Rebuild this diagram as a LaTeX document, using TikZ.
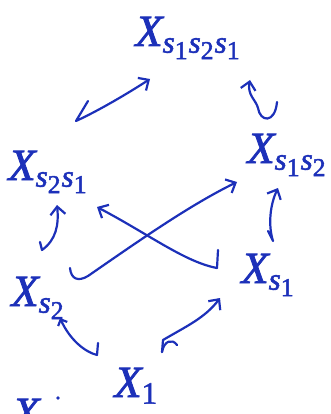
\documentclass[tikz,border=0pt]{standalone}
\usepackage{amsmath}
\usepackage{fontspec}
\newfontfamily\handfont{Liberation Serif}[FakeBold=1.8]
\newcommand\hi[1]{\text{\handfont\itshape #1}}
\newcommand\hd[1]{\text{\handfont #1}}
\usetikzlibrary{arrows.meta}
\definecolor{ink}{RGB}{28,48,185}
\begin{document}
\begin{tikzpicture}[x=1pt,y=-1pt,
  lab/.style={text=ink,inner sep=0pt,anchor=base west,font=\huge,scale=2.15,transform shape},
  arr/.style={draw=ink,line width=2.2pt,line cap=round,line join=round},
  barb/.tip={Straight Barb[length=8pt,width=15pt]},
  smallbarb/.tip={Straight Barb[length=5pt,width=10pt]},
  ]
\useasboundingbox (0,0) rectangle (331,414);
\clip (0,0) rectangle (331,414);
% labels
\node[lab] (top) at (135,46) {$\hi{X}_{\hi{s}_{\hd{1}}\hi{s}_{\hd{2}}\hi{s}_{\hd{1}}}$};
\node[lab] (r) at (247,163) {$\hi{X}_{\hi{s}_{\hd{1}}\hi{s}_{\hd{2}}}$};
\node[lab] (l) at (8,180) {$\hi{X}_{\hi{s}_{\hd{2}}\hi{s}_{\hd{1}}}$};
\node[lab] (ll) at (11,306) {$\hi{X}_{\hi{s}_{\hd{2}}}$};
\node[lab] (lr) at (241,283) {$\hi{X}_{\hi{s}_{\hd{1}}}$};
\node[lab] (b) at (114,397) {$\hi{X}_{\hd{1}}$};
\node[lab] (cut) at (12,428) {$\hi{X}$};
\fill[ink] (58,398) circle (1.8pt);
% named end points
\coordinate (a1s) at (88,101);
\coordinate (a1e) at (150,79);
\coordinate (a2s) at (250,80);
\coordinate (a2e) at (277,102);
\coordinate (a3s) at (57,205);
\coordinate (a3e) at (40,242);
\coordinate (a4s) at (278,188);
\coordinate (a4e) at (268,231);
\coordinate (a5s) at (70,268);
\coordinate (a5e) at (237,182);
\coordinate (a6s) at (97,207);
\coordinate (a6e) at (218,250);
\coordinate (a7s) at (60,318);
\coordinate (a7e) at (98,343);
\coordinate (a8s) at (162,352);
\coordinate (a8e) at (220,298);
% top-left: X_{s2s1} <-> X_{s1s2s1}
\draw[arr,-{barb}] (a1s) -- (76,121) .. controls (100,110) and (130,92) .. (a1e);
% top-right squiggle: X_{s1s2s1} <-> X_{s1s2}
\draw[arr,{barb}-] (a2s) .. controls (247,95) and (256,100) .. (258,108)
   .. controls (260,122) and (275,124) .. (a2e);
% left vertical: X_{s2} <-> X_{s2s1}
\draw[arr,{barb}-] (a3s) .. controls (59,225) and (56,240) .. (42,250) -- (a3e);
% right vertical: X_{s1} <-> X_{s1s2}
\draw[arr,{barb}-] (a4s) .. controls (270,205) and (268,225) .. (273,241) -- (a4e);
% cross 1: X_{s2} <-> X_{s1s2}
\draw[arr,-{barb}] (a5s) .. controls (71,279) and (78,282) .. (88,276)
   .. controls (140,240) and (190,205) .. (a5e);
% cross 2: X_{s1} <-> X_{s2s1}
\draw[arr,{barb}-] (a6s) .. controls (150,235) and (185,262) .. (217,268) -- (a6e);
% X_{s2} <-> X_1
\draw[arr,{smallbarb}-] (a7s) .. controls (70,340) and (85,352) .. (97,355) -- (a7e);
% X_1 <-> X_{s1}
\draw[arr] (177,345) .. controls (172,338) and (164,341) .. (a8s);
\draw[arr,-{barb}] (a8s) -- (163,340) .. controls (185,327) and (205,318) .. (a8e);
\end{tikzpicture}
\end{document}
